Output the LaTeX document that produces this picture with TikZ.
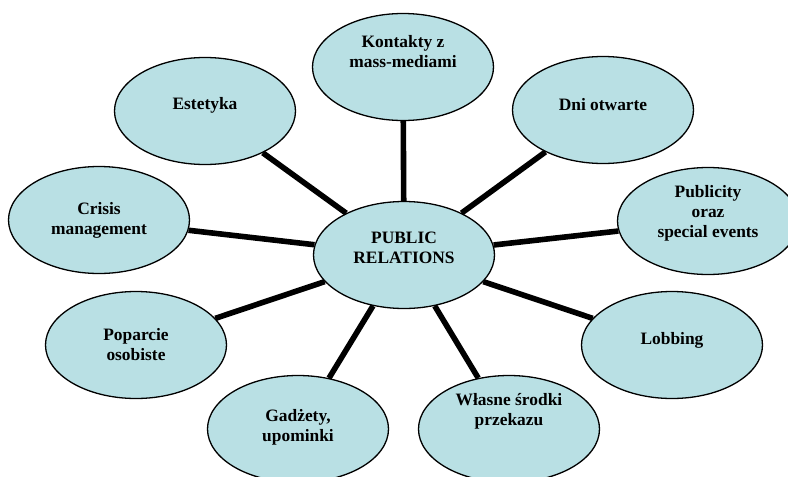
\documentclass[tikz,border=0pt]{standalone}
\usepackage{fontspec}
\setmainfont{Liberation Serif}
\usetikzlibrary{shapes.geometric}
\definecolor{bubblefill}{RGB}{185,224,228}

\begin{document}
\begin{tikzpicture}[x=1pt, y=-1pt,
	bubble/.style={ellipse, draw=black, line width=1.3pt, fill=bubblefill, minimum width=181pt, minimum height=107pt, inner sep=0pt},
	txt/.style={align=center, inner sep=0pt, font=\fontsize{17.4}{20}\selectfont\bfseries},
	link/.style={draw=black, line width=5.6pt}]
			\clip (0,0) rectangle (788,477);
			
			\node[bubble] (pr) at (404,255){};
			\node[bubble] (kon) at (403,67){};
			\node[bubble] (dni) at (603,110){};
			\node[bubble] (est) at (205,111){};
			\node[bubble] (pub) at (708,221){};
			\node[bubble] (cri) at (99,220){};
			\node[bubble] (pop) at (136,345){};
			\node[bubble] (lob) at (672,345){};
			\node[bubble] (gad) at (298,429){};
			\node[bubble] (wla) at (509,429){};
			
			\node[txt] (pr-t) at ([yshift=7pt]pr.center){PUBLIC\\RELATIONS};
			\node[txt] (kon-t) at ([yshift=15pt]kon.center){Kontakty z\\mass-mediami};
			\node[txt] (dni-t) at ([yshift=5pt]dni.center){Dni otwarte};
			\node[txt] (est-t) at ([yshift=6pt]est.center){Estetyka};
			\node[txt] (pub-t) at ([yshift=8pt]pub.center){Publicity\\oraz\\special events};
			\node[txt] (cri-t) at (cri.center){Crisis\\management};
			\node[txt] (pop-t) at (pop.center){Poparcie\\osobiste};
			\node[txt] (lob-t) at ([yshift=5pt]lob.center){Lobbing};
			\node[txt] (gad-t) at ([yshift=2pt]gad.center){Gadżety,\\upominki};
			\node[txt] (wla-t) at ([yshift=18pt]wla.center){Własne środki\\przekazu};
			
			\path[link] (pr) edge (kon);
			\path[link] (pr) edge (dni);
			\path[link] (pr) edge (est);
			\path[link] (pr) edge (pub);
			\path[link] (pr) edge (cri);
			\path[link] (pr) edge (pop);
			\path[link] (pr) edge (lob);
			\path[link] (pr) edge (gad);
			\path[link] (pr) edge (wla);
\end{tikzpicture}
\end{document}
